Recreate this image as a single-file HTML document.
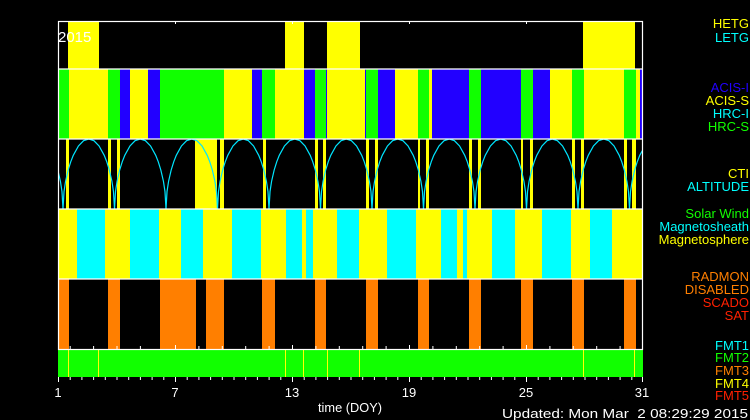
<!DOCTYPE html>
<html><head><meta charset="utf-8"><style>
html,body{margin:0;padding:0;background:#000;}
svg{display:block;}
text{font-family:"Liberation Sans",sans-serif;font-size:13px;}
</style></head><body>
<svg width="750" height="420" xmlns="http://www.w3.org/2000/svg" xmlns:xlink="http://www.w3.org/1999/xlink">
<rect width="750" height="420" fill="#000"/>
<defs>
<clipPath id="c"><rect x="58" y="139" width="585" height="70"/></clipPath>
<path id="arch" fill="none" stroke="#00e5ff" stroke-width="1.2" d="M0,70 L1.03,52.5 L2.58,42.3 L5.15,31.1 L7.73,22.8 L10.3,16.3 L15.45,7 L20.6,1.7 L25.75,0 L30.9,1.7 L36.05,7 L41.2,16.3 L43.78,22.8 L46.35,31.1 L48.93,42.3 L50.47,52.5 L51.5,70"/>
</defs>
<g fill="#ffff00">
<rect x="68" y="21" width="31" height="48"/>
<rect x="285" y="21" width="19" height="48"/>
<rect x="327" y="21" width="33" height="48"/>
<rect x="583" y="21" width="52" height="48"/>
</g>
<g>
<rect x="58" y="69" width="585" height="70" fill="#11ff00"/>
<g fill="#ffff00">
<rect x="69" y="69" width="39" height="70"/><rect x="130" y="69" width="18" height="70"/>
<rect x="224" y="69" width="28" height="70"/><rect x="275" y="69" width="29" height="70"/>
<rect x="327" y="69" width="38" height="70"/><rect x="395" y="69" width="23" height="70"/>
<rect x="429" y="69" width="3" height="70"/><rect x="550" y="69" width="22" height="70"/>
<rect x="584" y="69" width="40" height="70"/><rect x="636" y="69" width="4" height="70"/>
</g>
<g fill="#2200ff">
<rect x="120" y="69" width="10" height="70"/><rect x="148" y="69" width="12" height="70"/>
<rect x="252" y="69" width="10" height="70"/><rect x="304" y="69" width="11" height="70"/>
<rect x="326" y="69" width="1" height="70"/><rect x="365" y="69" width="1" height="70"/>
<rect x="378" y="69" width="17" height="70"/><rect x="432" y="69" width="37" height="70"/>
<rect x="481" y="69" width="40" height="70"/><rect x="533" y="69" width="17" height="70"/>
<rect x="640" y="69" width="3" height="70"/>
</g>
</g>
<g fill="#ffff00">
<rect x="66" y="139" width="3" height="70"/><rect x="108" y="139" width="3" height="70"/>
<rect x="117" y="139" width="3" height="70"/><rect x="195" y="139" width="22" height="70"/>
<rect x="220" y="139" width="4" height="70"/><rect x="263" y="139" width="3" height="70"/>
<rect x="315" y="139" width="3" height="70"/><rect x="323" y="139" width="3" height="70"/>
<rect x="366" y="139" width="3" height="70"/><rect x="375" y="139" width="3" height="70"/>
<rect x="418" y="139" width="2" height="70"/><rect x="426" y="139" width="3" height="70"/>
<rect x="469" y="139" width="3" height="70"/><rect x="478" y="139" width="3" height="70"/>
<rect x="521" y="139" width="2" height="70"/><rect x="530" y="139" width="3" height="70"/>
<rect x="572" y="139" width="3" height="70"/><rect x="581" y="139" width="3" height="70"/>
<rect x="624" y="139" width="3" height="70"/><rect x="632" y="139" width="4" height="70"/>
</g>
<g clip-path="url(#c)">
<use xlink:href="#arch" x="11.5" y="139"/><use xlink:href="#arch" x="63" y="139"/>
<use xlink:href="#arch" x="114.5" y="139"/><use xlink:href="#arch" x="166" y="139"/>
<use xlink:href="#arch" x="217.5" y="139"/><use xlink:href="#arch" x="269" y="139"/>
<use xlink:href="#arch" x="320.5" y="139"/><use xlink:href="#arch" x="372" y="139"/>
<use xlink:href="#arch" x="423.5" y="139"/><use xlink:href="#arch" x="475" y="139"/>
<use xlink:href="#arch" x="526.5" y="139"/><use xlink:href="#arch" x="578" y="139"/>
<use xlink:href="#arch" x="629.5" y="139"/>
</g>
<rect x="58" y="209" width="585" height="70" fill="#ffff00"/>
<g fill="#00ffff">
<rect x="77" y="209" width="28" height="70"/><rect x="130" y="209" width="29" height="70"/>
<rect x="181" y="209" width="22" height="70"/><rect x="232" y="209" width="29" height="70"/>
<rect x="286" y="209" width="16" height="70"/><rect x="306" y="209" width="7" height="70"/>
<rect x="337" y="209" width="22" height="70"/><rect x="387" y="209" width="29" height="70"/>
<rect x="441" y="209" width="16" height="70"/><rect x="463" y="209" width="4" height="70"/>
<rect x="492" y="209" width="23" height="70"/><rect x="542" y="209" width="29" height="70"/>
<rect x="590" y="209" width="22" height="70"/>
</g>
<g fill="#ff7f00">
<rect x="58" y="279" width="11" height="70"/><rect x="108" y="279" width="12" height="70"/>
<rect x="160" y="279" width="36" height="70"/><rect x="206" y="279" width="18" height="70"/>
<rect x="262" y="279" width="13" height="70"/><rect x="315" y="279" width="11" height="70"/>
<rect x="366" y="279" width="12" height="70"/><rect x="418" y="279" width="11" height="70"/>
<rect x="469" y="279" width="12" height="70"/><rect x="521" y="279" width="12" height="70"/>
<rect x="572" y="279" width="12" height="70"/><rect x="624" y="279" width="12" height="70"/>
</g>
<rect x="58" y="349" width="585" height="28" fill="#11ff00"/>
<g stroke="#ffff00" stroke-width="1">
<line x1="68.5" y1="349" x2="68.5" y2="377"/><line x1="98.5" y1="349" x2="98.5" y2="377"/>
<line x1="285.5" y1="349" x2="285.5" y2="377"/><line x1="303.5" y1="349" x2="303.5" y2="377"/>
<line x1="327.5" y1="349" x2="327.5" y2="377"/><line x1="359.5" y1="349" x2="359.5" y2="377"/>
<line x1="583.5" y1="349" x2="583.5" y2="377"/><line x1="634.5" y1="349" x2="634.5" y2="377"/>
</g>
<g stroke="#fff" stroke-width="1.2" fill="none">
<rect x="58.5" y="21.5" width="584" height="328"/>
<line x1="58" y1="69" x2="643" y2="69"/><line x1="58" y1="139" x2="643" y2="139"/>
<line x1="58" y1="209" x2="643" y2="209"/><line x1="58" y1="279" x2="643" y2="279"/>
</g>
<g stroke="#fff" stroke-width="1">
<path d="M58.5,377v5 M70.2,377v3 M81.9,377v3 M93.6,377v3 M105.3,377v3 M117,377v3 M128.7,377v3 M140.4,377v3 M152.1,377v3 M163.8,377v3 M175.5,377v5 M187.2,377v3 M198.9,377v3 M210.6,377v3 M222.3,377v3 M234,377v3 M245.7,377v3 M257.4,377v3 M269.1,377v3 M280.8,377v3 M292.5,377v5 M304.2,377v3 M315.9,377v3 M327.6,377v3 M339.3,377v3 M351,377v3 M362.7,377v3 M374.4,377v3 M386.1,377v3 M397.8,377v3 M409.5,377v5 M421.2,377v3 M432.9,377v3 M444.6,377v3 M456.3,377v3 M468,377v3 M479.7,377v3 M491.4,377v3 M503.1,377v3 M514.8,377v3 M526.5,377v5 M538.2,377v3 M549.9,377v3 M561.6,377v3 M573.3,377v3 M585,377v3 M596.7,377v3 M608.4,377v3 M620.1,377v3 M631.8,377v3 M642.5,377v5"/>
<path d="M70.2,349v-3 M93.6,349v-3 M117,349v-3 M140.4,349v-3 M175.5,349v-4 M198.9,349v-3 M222.3,349v-3 M245.7,349v-3 M269.1,349v-3 M292.5,349v-4 M315.9,349v-3 M339.3,349v-3 M362.7,349v-3 M386.1,349v-3 M409.5,349v-4 M432.9,349v-3 M456.3,349v-3 M479.7,349v-3 M503.1,349v-3 M526.5,349v-4 M549.9,349v-3 M573.3,349v-3 M596.7,349v-3 M620.1,349v-3"/>
<path d="M175.5,21v3 M292.5,21v3 M409.5,21v3 M526.5,21v3"/>
</g>
<g fill="#fff">
<text x="58" y="397" text-anchor="middle">1</text>
<text x="175" y="397" text-anchor="middle">7</text>
<text x="292" y="397" text-anchor="middle">13</text>
<text x="409" y="397" text-anchor="middle">19</text>
<text x="526" y="397" text-anchor="middle">25</text>
<text x="642" y="397" text-anchor="middle">31</text>
<text x="318" y="412" textLength="64" lengthAdjust="spacingAndGlyphs">time (DOY)</text>
<text x="502" y="418" textLength="246" lengthAdjust="spacingAndGlyphs" xml:space="preserve">Updated: Mon Mar  2 08:29:29 2015</text>
<text x="58" y="42" style="font-size:15px">2015</text>
</g>
<g text-anchor="end">
<text x="749" y="28" fill="#ffff00">HETG</text>
<text x="749" y="42" fill="#00ffff">LETG</text>
<text x="749" y="92" fill="#2200ff">ACIS-I</text>
<text x="749" y="105" fill="#ffff00">ACIS-S</text>
<text x="749" y="118" fill="#00ffff">HRC-I</text>
<text x="749" y="131" fill="#11ff00">HRC-S</text>
<text x="749" y="178" fill="#ffff00">CTI</text>
<text x="749" y="191" fill="#00ffff">ALTITUDE</text>
<text x="749" y="218" fill="#11ff00">Solar Wind</text>
<text x="749" y="231" fill="#00ffff">Magnetosheath</text>
<text x="749" y="244" fill="#ffff00">Magnetosphere</text>
<text x="749" y="281" fill="#ff7f00">RADMON</text>
<text x="749" y="294" fill="#ff7f00">DISABLED</text>
<text x="749" y="307" fill="#ff2000">SCADO</text>
<text x="749" y="320" fill="#ff2000">SAT</text>
<text x="749" y="350" fill="#00ffff">FMT1</text>
<text x="749" y="362" fill="#11ff00">FMT2</text>
<text x="749" y="375" fill="#ff7f00">FMT3</text>
<text x="749" y="388" fill="#ffff00">FMT4</text>
<text x="749" y="400" fill="#ff2000">FMT5</text>
</g>
</svg>
</body></html>
